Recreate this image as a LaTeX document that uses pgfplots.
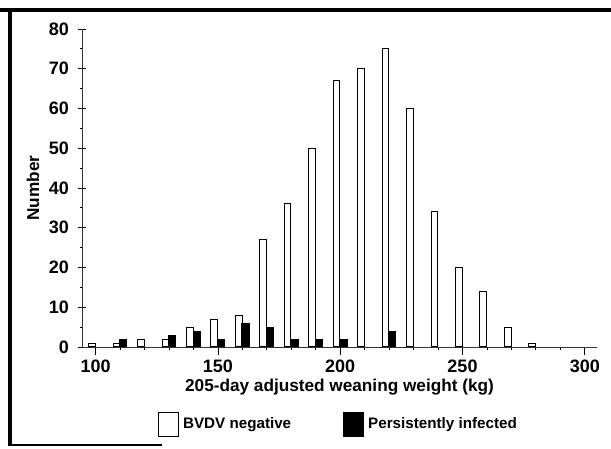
\documentclass[border=0pt]{standalone}
\usepackage{fontspec}
\setmainfont{Liberation Sans}
\usepackage{pgfplots}
\pgfplotsset{compat=1.18}

\begin{document}
\begin{tikzpicture}
\begin{axis}[
    scale only axis,
    width=257.5pt, height=159pt,
    xmin=94.4, xmax=305,
    ymin=0, ymax=80,
    axis x line=bottom, axis y line=left,
    axis line style={-, line width=0.4pt, black!80},
    xtick={100,150,...,300},
    minor xtick={110,120,130,140,160,170,180,190,210,220,230,240,260,270,280,290},
    ytick={0,10,...,80},
    minor ytick={5,15,...,75},
    tick align=center,
    major tick length=4pt,
    minor tick length=1.5pt,
    tick style={black, line width=0.4pt},
    ticklabel style={font=\fontsize{9}{10}\selectfont\bfseries},
    /pgf/number format/assume math mode=true,
    xticklabel style={yshift=1pt},
    yticklabel style={xshift=-1pt},
    xlabel={205-day adjusted weaning weight (kg)},
    ylabel={Number},
    label style={font=\fontsize{8.6}{10}\selectfont\bfseries},
    xlabel style={yshift=4pt},
    ylabel style={yshift=-2pt},
    ybar,
    legend columns=2,
    legend style={at={(0.5,-0.245)}, anchor=center, draw=none,
        font=\fontsize{7.6}{9}\selectfont\bfseries,
        /tikz/every even column/.append style={column sep=24pt}},
    legend image code/.code={\draw[#1, line width=0.5pt] (0pt,-6pt) rectangle (10pt,6pt);},
]
\addplot[fill=white, draw=black, line width=0.5pt, bar width=2.7, bar shift=-1.5]
  coordinates {(100,1) (110,1) (120,2) (130,2) (140,5) (150,7) (160,8) (170,27)
               (180,36) (190,50) (200,67) (210,70) (220,75) (230,60) (240,34)
               (250,20) (260,14) (270,5) (280,1)};
\addlegendentry{BVDV negative}
\addplot[fill=black, draw=black, line width=0.5pt, bar width=3.0, bar shift=1.3]
  coordinates {(110,2) (130,3) (140,4) (150,2) (160,6) (170,5) (180,2)
               (190,2) (200,2) (220,4)};
\addlegendentry{Persistently infected}
\end{axis}
\useasboundingbox (-41pt,-51pt) rectangle (264.5pt,173.5pt);
\draw[line width=2pt] (-41pt,168.5pt) -- (264.5pt,168.5pt);
\draw[line width=2pt] (-36pt,169.5pt) -- (-36pt,-49pt);
\draw[line width=0.8pt] (-37pt,-49pt) -- (40pt,-49pt);
\end{tikzpicture}
\end{document}
